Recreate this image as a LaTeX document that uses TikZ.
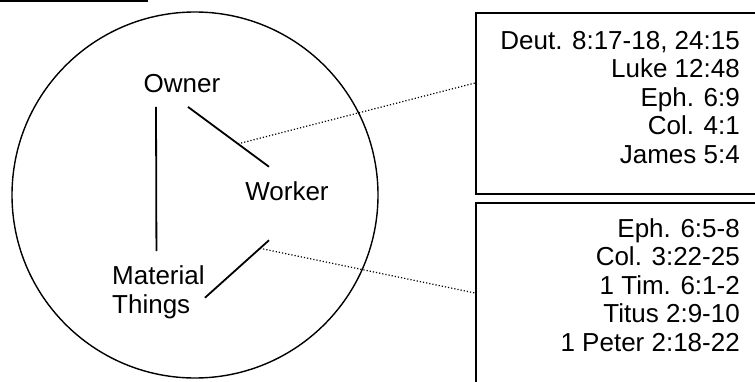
\documentclass[tikz,border=0pt]{standalone}
\usepackage{fontspec}
\setmainfont{Liberation Sans}
\usetikzlibrary{calc}

\tikzset{
  word/.style={inner sep=0pt, font=\fontsize{26}{29}\selectfont},
  link/.style={line width=1.8pt},
  ref/.style={line width=1.2pt, dotted},
  refbox/.style={draw, rectangle, line width=2pt, minimum width=300pt, anchor=north west},
  reftext/.style={inner sep=0pt, align=right, anchor=north east, font=\fontsize{26}{28.5}\selectfont}
}

\begin{document}
\begin{tikzpicture}[x=1pt, y=1pt]
	\useasboundingbox (0,0) rectangle (755,381);
	\clip (0,0) rectangle (755,381);

	\draw[line width=2.2pt] (0,380) -- (148,380);
	\draw[line width=1.4pt] (195,186) circle (183);

	\node (owner) [word] at (182,297) {Owner};
	\node (worker) [word] at (287,189.5) {Worker};
	\node (material) [word, align=left, anchor=north west] at (112,116) {Material\\Things};

	\node (box1) [refbox, minimum height=181pt] at (475,369) {};
	\node (box2) [refbox, minimum height=200pt] at (475,179) {};
	\node (ownerrefs) [reftext] at ($(box1.north east)+(-37,-19)$) {Deut. 8:17-18, 24:15\\Luke 12:48\\Eph. 6:9\\Col. 4:1\\James 5:4};
	\node (workerrefs) [reftext] at ($(box2.north east)+(-37,-16)$) {Eph. 6:5-8\\Col. 3:22-25\\1 Tim. 6:1-2\\Titus 2:9-10\\1 Peter 2:18-22};

	% Lines
	\draw[link] ($(owner.south)+(-26,-13.5)$) -- ($(material.north)+(-2,14)$);
	\draw[link] ($(owner.south)+(6,-13.5)$) -- coordinate[pos=0.617] (ow) ($(worker.north)+(-18,15)$);
	\draw[link] ($(material.east)+(0,-6)$) -- coordinate[pos=0.86] (mw) ($(worker.south)+(-18,-39)$);

	% References
	\draw[ref] (ow) -- ($(box1.north west)+(0,-71)$);
	\draw[ref] (mw) -- ($(box2.north west)+(0,-91)$);
\end{tikzpicture}
\end{document}
